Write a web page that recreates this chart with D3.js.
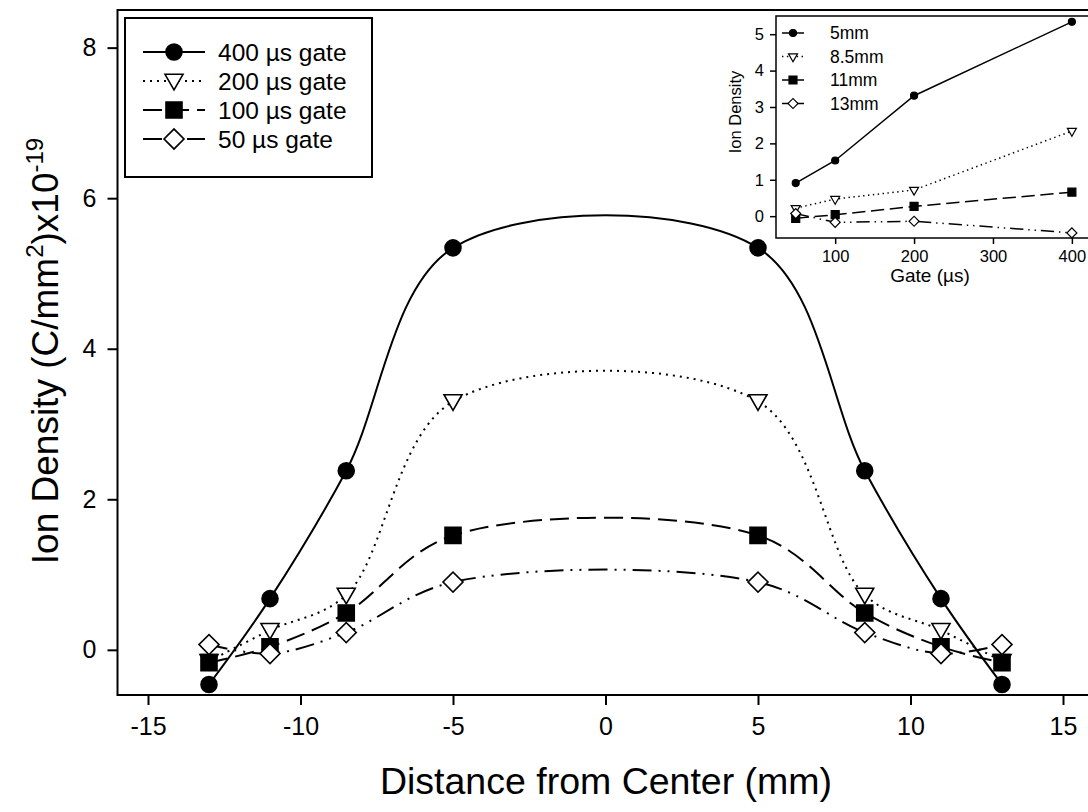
<!DOCTYPE html>
<html>
<head>
<meta charset="utf-8">
<script src="https://cdn.jsdelivr.net/npm/d3@7"></script>
<style>
body { margin: 0; background: #fff; }
svg { display: block; font-family: "Liberation Sans", Arial, sans-serif; }
</style>
</head>
<body>
<svg id="chart" width="1088" height="812"></svg>
<script>
// measured distances from center (mm)
var distances = [-13, -11, -8.5, -5, 5, 8.5, 11, 13];
// ion density (x10^-19 C/mm^2) for each gate width
var gate400 = [-0.46, 0.68, 2.38, 5.34, 5.34, 2.38, 0.68, -0.46];
var gate200 = [-0.15, 0.26, 0.73, 3.30, 3.30, 0.73, 0.26, -0.15];
var gate100 = [-0.17, 0.04, 0.49, 1.52, 1.52, 0.49, 0.04, -0.17];
var gate50  = [0.07, -0.05, 0.23, 0.90, 0.90, 0.23, -0.05, 0.07];
var gateLabels = ['400 µs gate', '200 µs gate', '100 µs gate', '50 µs gate'];

// inset: density vs gate at each radius
var gates = [50, 100, 200, 400];
var r5mm  = [0.91, 1.53, 3.31, 5.34];
var r85mm = [0.22, 0.47, 0.72, 2.34];
var r11mm = [-0.06, 0.04, 0.27, 0.66];
var r13mm = [0.07, -0.17, -0.14, -0.46];
var radiusLabels = ['5mm', '8.5mm', '11mm', '13mm'];

var xTicks = [-15, -10, -5, 0, 5, 10, 15];
var yTicks = [0, 2, 4, 6, 8];
var insetXTicks = [100, 200, 300, 400];
var insetYTicks = [0, 1, 2, 3, 4, 5];

var svg = d3.select('#chart');

// marker / line style per series (same order in both plots)
var styles = [
    {shape: 'circle',   fill: '#000', dash: null},
    {shape: 'triangle', fill: '#fff', dash: 'dot'},
    {shape: 'square',   fill: '#000', dash: 'long'},
    {shape: 'diamond',  fill: '#fff', dash: 'dashdot'}
];

function dashArray(kind, s) {
    if (kind == 'dot') return [2 * s, 5 * s].join(' ');
    if (kind == 'long') return [19 * s, 8 * s].join(' ');
    if (kind == 'dashdot') return [19 * s, 7 * s, 2 * s, 7 * s, 2 * s, 7 * s].join(' ');
    return null;
}

// plain hyphen minus like the original
function fmt(d) { return String(d); }

// draws one marker; size is roughly the marker width in px
function marker(g, shape, fill, x, y, size, sw) {
    var sym, rot = 0;
    if (shape == 'circle') sym = d3.symbol(d3.symbolCircle, Math.PI * size * size / 4);
    if (shape == 'square') sym = d3.symbol(d3.symbolSquare, size * size);
    if (shape == 'diamond') { sym = d3.symbol(d3.symbolSquare, size * size / 2); rot = 45; }
    if (shape == 'triangle') { sym = d3.symbol(d3.symbolTriangle, Math.sqrt(3) / 4 * size * size); rot = 180; }
    g.append('path')
        .attr('d', sym())
        .attr('transform', 'translate(' + x + ',' + y + ') rotate(' + rot + ')')
        .attr('fill', fill)
        .attr('stroke', '#000')
        .attr('stroke-width', sw);
}

// ---------- main plot ----------
var x = d3.scaleLinear().domain([-16, 16]).range([117.5, 1093.5]);
var y = d3.scaleLinear().domain([-0.6, 8.5]).range([695, 10]);

var main = svg.append('g');

main.append('rect')
    .attr('x', x(-16)).attr('y', y(8.5))
    .attr('width', x(16) - x(-16)).attr('height', y(-0.6) - y(8.5))
    .attr('fill', 'none').attr('stroke', '#000').attr('stroke-width', 2);

var xAxis = main.append('g')
    .attr('transform', 'translate(0,' + y(-0.6) + ')')
    .call(d3.axisBottom(x).tickValues(xTicks).tickFormat(fmt).tickSize(10).tickPadding(12).tickSizeOuter(0));
var yAxis = main.append('g')
    .attr('transform', 'translate(' + x(-16) + ',0)')
    .call(d3.axisLeft(y).tickValues(yTicks).tickFormat(fmt).tickSize(10).tickPadding(11).tickSizeOuter(0));
[xAxis, yAxis].forEach(function(a) {
    a.select('.domain').remove();
    a.selectAll('line').attr('stroke-width', 2);
    a.selectAll('text').attr('font-size', 25).attr('font-family', '"Liberation Sans", Arial, sans-serif');
});

main.append('text')
    .attr('x', 606).attr('y', 794)
    .attr('text-anchor', 'middle')
    .attr('font-size', 37.5)
    .text('Distance from Center (mm)');

var yTitle = main.append('text')
    .attr('transform', 'translate(58,351) rotate(-90)')
    .attr('text-anchor', 'middle')
    .attr('font-size', 37);
yTitle.append('tspan').text('Ion Density (C/mm');
yTitle.append('tspan').attr('font-size', 24).attr('dy', -15).text('2');
yTitle.append('tspan').attr('dy', 15).text(')x10');
yTitle.append('tspan').attr('font-size', 24).attr('dy', -15).text('-19');

var line = d3.line()
    .x(function(d) { return x(d[0]); })
    .y(function(d) { return y(d[1]); })
    .curve(d3.curveCatmullRom.alpha(0.5));

var series = [gate400, gate200, gate100, gate50];
series.forEach(function(vals, i) {
    var pts = distances.map(function(d, j) { return [d, vals[j]]; });
    var st = styles[i];
    main.append('path')
        .attr('d', line(pts))
        .attr('fill', 'none')
        .attr('stroke', '#000')
        .attr('stroke-width', 2)
        .attr('stroke-dasharray', dashArray(st.dash, 1));
    var mg = main.append('g');
    pts.forEach(function(p) {
        var sz = st.shape == 'circle' ? 16 : st.shape == 'square' ? 16 : st.shape == 'diamond' ? 20 : 18;
        var yy = y(p[1]) + (st.shape == 'triangle' ? -1.5 : 0);
        marker(mg, st.shape, st.fill, x(p[0]), yy, sz, 1.6);
    });
});

// legend
var leg = main.append('g');
leg.append('rect')
    .attr('x', 125).attr('y', 18).attr('width', 247).attr('height', 159)
    .attr('fill', '#fff').attr('stroke', '#000').attr('stroke-width', 2);
gateLabels.forEach(function(lbl, i) {
    var ly = 52 + i * 29, st = styles[i];
    leg.append('line')
        .attr('x1', 143).attr('x2', 205).attr('y1', ly).attr('y2', ly)
        .attr('stroke', '#000').attr('stroke-width', 2)
        .attr('stroke-dasharray', dashArray(st.dash, 1));
    var sz = st.shape == 'diamond' ? 20 : st.shape == 'triangle' ? 18 : 16;
    marker(leg, st.shape, st.fill, 174, ly + (st.shape == 'triangle' ? -1.5 : 0), sz, 1.6);
    leg.append('text')
        .attr('x', 218).attr('y', ly).attr('dy', '0.36em')
        .attr('font-size', 24.5)
        .text(lbl);
});

// ---------- inset ----------
var ix = d3.scaleLinear().domain([25, 425]).range([776, 1091.6]);
var iy = d3.scaleLinear().domain([-0.6, 5.5]).range([238, 16]);

var inset = svg.append('g');
inset.append('rect')
    .attr('x', ix(25)).attr('y', iy(5.5))
    .attr('width', ix(425) - ix(25)).attr('height', iy(-0.6) - iy(5.5))
    .attr('fill', '#fff').attr('stroke', '#000').attr('stroke-width', 1.5);

var ixAxis = inset.append('g')
    .attr('transform', 'translate(0,' + iy(-0.6) + ')')
    .call(d3.axisBottom(ix).tickValues(insetXTicks).tickFormat(fmt).tickSize(6).tickPadding(6).tickSizeOuter(0));
var iyAxis = inset.append('g')
    .attr('transform', 'translate(' + ix(25) + ',0)')
    .call(d3.axisLeft(iy).tickValues(insetYTicks).tickFormat(fmt).tickSize(6).tickPadding(6).tickSizeOuter(0));
[ixAxis, iyAxis].forEach(function(a) {
    a.select('.domain').remove();
    a.selectAll('line').attr('stroke-width', 1.5);
    a.selectAll('text').attr('font-size', 16.5).attr('font-family', '"Liberation Sans", Arial, sans-serif');
});

inset.append('text')
    .attr('x', 930).attr('y', 282)
    .attr('text-anchor', 'middle')
    .attr('font-size', 19)
    .text('Gate (µs)');
inset.append('text')
    .attr('transform', 'translate(741,112) rotate(-90)')
    .attr('text-anchor', 'middle')
    .attr('font-size', 16.5)
    .text('Ion Density');

var iline = d3.line()
    .x(function(d) { return ix(d[0]); })
    .y(function(d) { return iy(d[1]); });

var iseries = [r5mm, r85mm, r11mm, r13mm];
iseries.forEach(function(vals, i) {
    var pts = gates.map(function(g, j) { return [g, vals[j]]; });
    var st = styles[i];
    inset.append('path')
        .attr('d', iline(pts))
        .attr('fill', 'none')
        .attr('stroke', '#000')
        .attr('stroke-width', 1.5)
        .attr('stroke-dasharray', dashArray(st.dash, 0.7));
    pts.forEach(function(p) {
        var sz = st.shape == 'circle' ? 7 : st.shape == 'square' ? 8 : st.shape == 'diamond' ? 10 : 9;
        marker(inset, st.shape, st.fill, ix(p[0]), iy(p[1]), sz, 1.2);
    });
});

radiusLabels.forEach(function(lbl, i) {
    var ly = 33 + i * 23.5, st = styles[i];
    inset.append('line')
        .attr('x1', 782).attr('x2', 804).attr('y1', ly).attr('y2', ly)
        .attr('stroke', '#000').attr('stroke-width', 1.5)
        .attr('stroke-dasharray', st.dash == 'dot' ? dashArray('dot', 0.7) : null);
    var sz = st.shape == 'circle' ? 7 : st.shape == 'square' ? 8 : st.shape == 'diamond' ? 10 : 9;
    marker(inset, st.shape, st.fill, 793, ly, sz, 1.2);
    inset.append('text')
        .attr('x', 830).attr('y', ly).attr('dy', '0.36em')
        .attr('font-size', 17.5)
        .text(lbl);
});
</script>
</body>
</html>
